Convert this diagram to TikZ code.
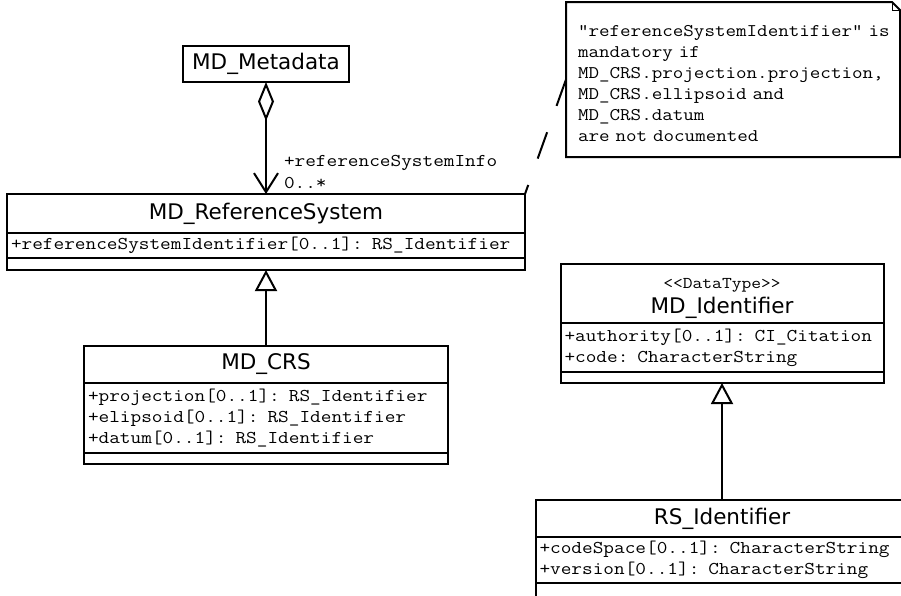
\documentclass[tikz,border=0pt]{standalone}
\usepackage{fontspec}
\newfontfamily\umlsans{DejaVu Sans}
\setmonofont{Latin Modern Mono}[FakeStretch=1.15]
\usepackage{tikz}
\usetikzlibrary{shapes,arrows.meta,positioning}

\newcommand\namefont{\umlsans\fontsize{21.5}{25}\selectfont}
\newcommand\attrfont{\ttfamily\fontsize{18}{20.8}\selectfont}
\newcommand\notefont{\ttfamily\fontsize{17.8}{21}\selectfont}
\newcommand\stereofont{\ttfamily\fontsize{16.5}{18}\selectfont}

\begin{document}
\begin{tikzpicture}[x=1pt, y=-1pt, line width=2pt,
  classname/.style = {draw, inner sep=0pt, outer sep=0pt,
    minimum width=#1, font=\namefont},
  classattr/.style = {draw, inner xsep=4pt, inner ysep=0pt, outer sep=0pt,
    text width=#1-8pt, align=left, font=\attrfont},
  classops/.style = {draw, inner sep=0pt, outer sep=0pt, minimum width=#1},
  stereo/.style = {inner sep=0pt, font=\stereofont},
  rolelabel/.style = {inner sep=0pt, font=\attrfont},
  note/.style = {inner sep=0pt, minimum width=332pt, minimum height=153pt,
    text width=331pt, align=left, font=\notefont},
  assoc/.style = {{Diamond[open, length=39pt, width=16pt]}-{Straight Barb[length=19pt, width=24pt]}},
  gen/.style = {-{Triangle[open, length=21pt, width=22pt]}},
  notelink/.style = {dash pattern=on 28pt off 28pt}]

  \useasboundingbox[fill=white] (0,0) rectangle (901,595);

  % classes
  \node[classname=166pt, minimum height=36pt] (mdmeta) at (266,64) {MD\_Metadata};

  \node[classname=518pt, minimum height=39pt] (mdrs) at (266,213.5) {MD\_ReferenceSystem};
  \node[classattr=518pt, minimum height=25pt, below=0pt of mdrs] (mdrs-attr)
    {+referenceSystemIdentifier[0..1]: RS\_Identifier};
  \node[classops=518pt, minimum height=12pt, below=0pt of mdrs-attr] (mdrs-ops) {};

  \node[classname=364pt, minimum height=37pt] (mdcrs) at (266,364.5) {MD\_CRS};
  \node[classattr=364pt, minimum height=70pt, below=0pt of mdcrs] (mdcrs-attr)
    {+projection[0..1]: RS\_Identifier\\
     +elipsoid[0..1]: RS\_Identifier\\
     +datum[0..1]: RS\_Identifier};
  \node[classops=364pt, minimum height=11pt, below=0pt of mdcrs-attr] (mdcrs-ops) {};

  \node[classname=323pt, minimum height=59pt, text height=43pt, text depth=4pt]
    (mdid) at (722,293.5) {MD\_Identifier};
  \node[stereo, anchor=base] (mdid-st) at ([yshift=-24pt]mdid.north) {<<DataType>>};
  \node[classattr=323pt, minimum height=49pt, below=0pt of mdid] (mdid-attr)
    {+authority[0..1]: CI\_Citation\\
     +code: CharacterString};
  \node[classops=323pt, minimum height=11pt, below=0pt of mdid-attr] (mdid-ops) {};

  \node[classname=373pt, minimum height=37pt] (rsid) at (722,518.5) {RS\_Identifier};
  \node[classattr=373pt, minimum height=46pt, below=0pt of rsid] (rsid-attr)
    {+codeSpace[0..1]: CharacterString\\
     +version[0..1]: CharacterString};
  \node[classops=373pt, minimum height=17pt, below=0pt of rsid-attr] (rsid-ops) {};

  % note
  \node[note] (cond) at (733,79.5)
    {\leftskip=10.5pt \rule{0pt}{19pt}"referenceSystemIdentifier" is\\
     mandatory if\\
     MD\_CRS.projection.projection,\\
     MD\_CRS.ellipsoid and\\
     MD\_CRS.datum\\
     are not documented\par};
  \draw (cond.south west) -- (cond.north west) -- ([xshift=-8pt]cond.north east)
    -- ([yshift=-8pt]cond.north east) -- (cond.south east) -- cycle;
  \draw[line width=1pt] ([xshift=-8pt]cond.north east) |- ([yshift=-8pt]cond.north east);

  % connectors
  \draw[assoc] (mdmeta.south) -- (mdrs.north);
  \node[rolelabel, anchor=base west] (mult) at ([xshift=17pt, yshift=6pt]mdrs.north) {0..*};
  \node[rolelabel, anchor=base west] (role) at ([yshift=22pt]mult.base west) {+referenceSystemInfo};

  \draw[gen] (mdcrs.north) -- (mdrs-ops.south);
  \draw[gen] (rsid.north) -- (mdid-ops.south);
  \draw[notelink] (cond.west) -- (mdrs.north east);
\end{tikzpicture}
\end{document}
